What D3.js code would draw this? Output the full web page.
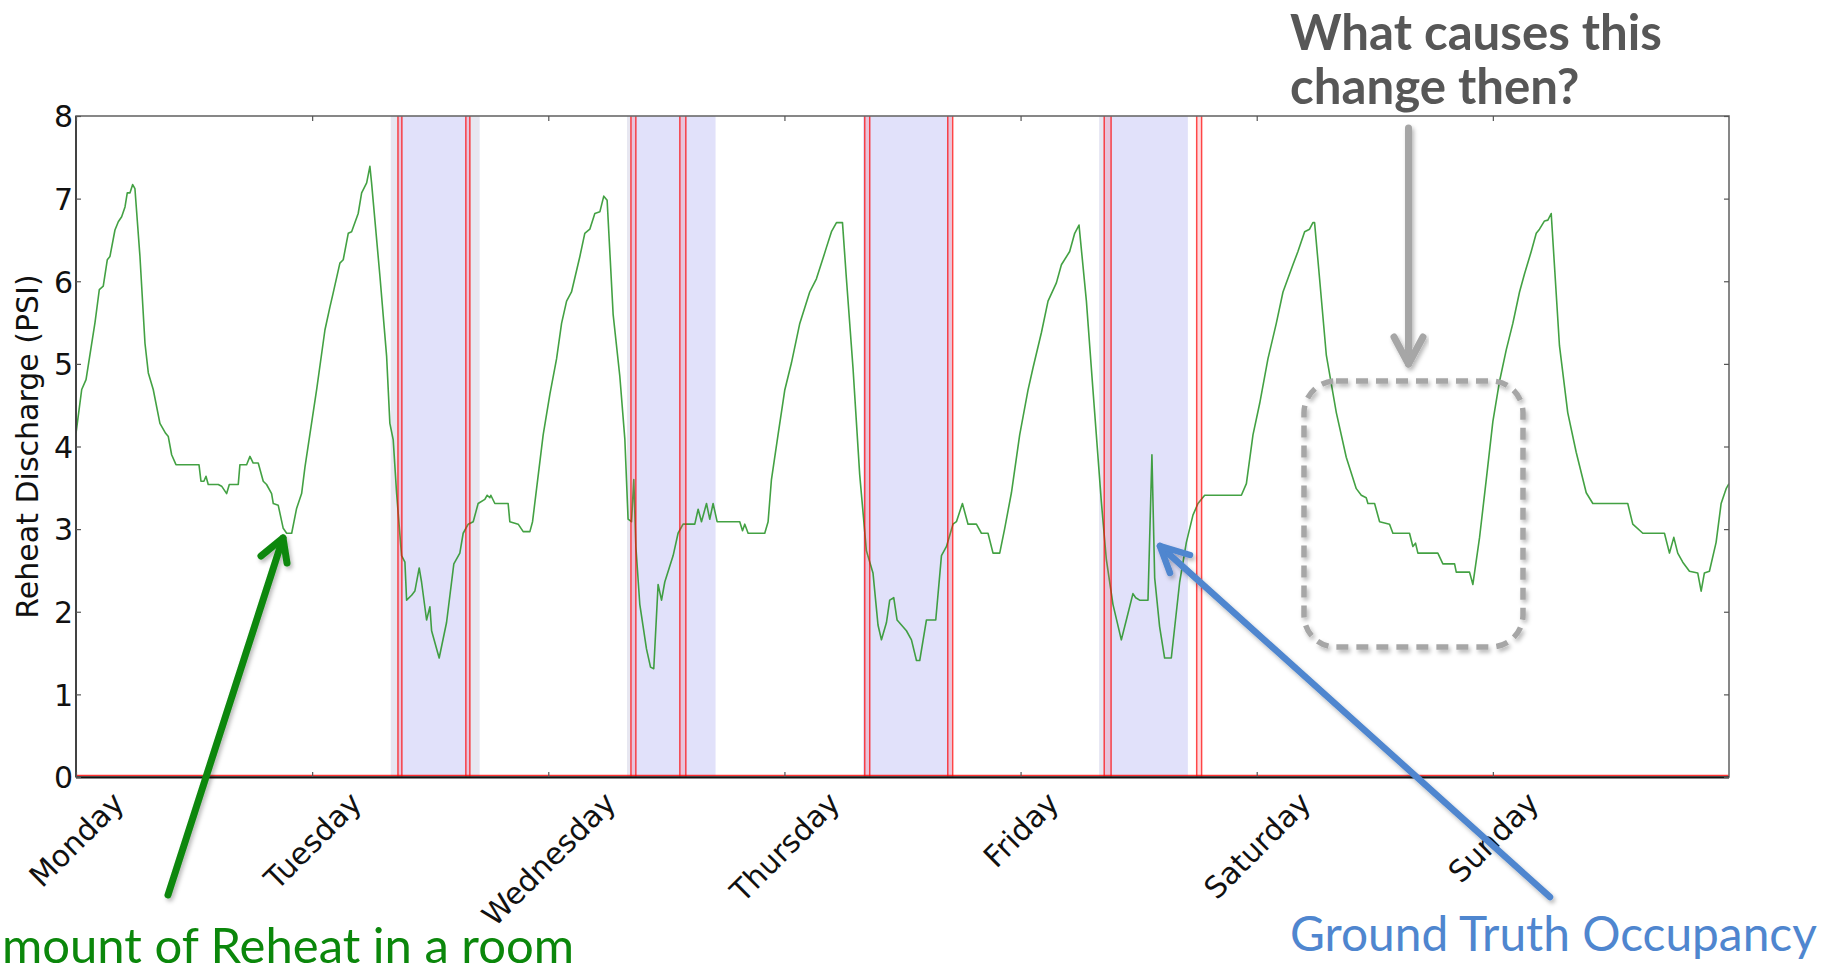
<!DOCTYPE html>
<html>
<head>
<meta charset="utf-8">
<script src="https://cdn.jsdelivr.net/npm/d3@7"></script>
<style>
  html, body { margin: 0; padding: 0; background: #ffffff; }
  svg { display: block; }
</style>
</head>
<body>
<svg id="chart" width="1828" height="973"></svg>
<script>
// ---------------- data ----------------
const dayLabels = ["Monday", "Tuesday", "Wednesday", "Thursday", "Friday", "Saturday", "Sunday"];
const dayTickHours = [0, 24, 48, 72, 96, 120, 144];
const yTicks = [0, 1, 2, 3, 4, 5, 6, 7, 8];
const yLabel = "Reheat Discharge (PSI)";

// time since Monday 00:00 (hours)
const reheatHours = [
  0.0, 0.58, 1.02, 1.93, 2.37, 2.77, 3.18, 3.45, 3.96, 4.30, 4.64, 4.98, 5.21, 5.49, 5.76, 5.99,
  6.50, 7.01, 7.35, 7.85, 8.53, 9.11, 9.38, 9.72, 10.16, 12.50, 12.70, 13.00, 13.21, 13.44, 14.46,
  14.80, 15.31, 15.58, 16.49, 16.66, 17.34, 17.68, 18.01, 18.52, 19.03, 19.37, 19.88, 20.05, 20.55,
  21.06, 21.41, 21.92, 22.42, 22.93, 23.27, 24.46, 25.30, 25.81, 26.14, 26.82, 27.16, 27.67, 28.01,
  28.68, 29.03, 29.54, 29.87, 30.04, 30.89, 31.57, 31.90, 32.24, 32.58, 33.09, 33.43, 33.60, 34.11,
  34.44, 34.88, 35.12, 35.63, 35.97, 36.14, 36.91, 37.66, 38.40, 39.01, 39.35, 39.86, 40.37, 40.87,
  41.55, 41.79, 42.06, 42.16, 42.57, 43.92, 44.09, 44.94, 45.45, 46.13, 46.40, 46.81, 47.48, 48.16,
  48.84, 49.35, 49.86, 50.36, 51.21, 51.71, 52.22, 52.73, 53.24, 53.64, 53.98, 54.59, 55.27, 55.78,
  56.11, 56.46, 56.69, 56.90, 57.30, 57.98, 58.39, 58.72, 59.16, 59.51, 59.84, 60.69, 61.19, 61.70,
  62.89, 63.23, 63.57, 64.08, 64.41, 64.75, 65.16, 67.46, 67.74, 67.97, 68.31, 70.00, 70.34, 70.68,
  71.35, 72.03, 72.71, 73.56, 74.57, 75.25, 75.93, 76.27, 76.78, 77.29, 77.90, 78.30, 78.97, 79.65,
  80.33, 81.00, 81.51, 81.86, 82.37, 82.70, 83.11, 83.45, 84.40, 84.91, 85.42, 85.75, 86.43, 87.38,
  87.96, 88.47, 89.13, 89.48, 90.09, 90.66, 91.51, 92.02, 92.69, 93.20, 93.88, 94.39, 95.07, 95.91,
  96.75, 97.26, 98.12, 98.79, 99.64, 100.15, 100.99, 101.50, 101.94, 102.69, 103.36, 104.21, 104.72,
  105.39, 106.24, 106.75, 107.42, 107.70, 108.10, 108.95, 109.35, 109.63, 110.13, 110.64, 111.32,
  112.17, 112.85, 113.52, 114.03, 114.71, 118.44, 118.95, 119.62, 120.30, 121.14, 121.99, 122.67,
  123.68, 124.19, 124.87, 125.37, 125.71, 125.88, 126.39, 127.07, 128.09, 129.10, 130.12, 130.63,
  131.13, 131.30, 131.98, 132.49, 133.50, 133.84, 135.53, 135.87, 136.14, 136.38, 138.41, 138.92,
  140.11, 140.28, 141.63, 141.97, 142.65, 143.33, 144.00, 144.68, 145.36, 146.03, 146.71, 147.22,
  147.90, 148.41, 148.74, 149.25, 149.59, 149.93, 150.77, 151.61, 152.47, 153.49, 154.16, 157.71,
  158.22, 159.24, 161.44, 161.95, 162.39, 162.79, 163.30, 163.98, 164.82, 165.17, 165.50, 166.01,
  166.69, 167.20, 167.71, 168.0
];
const reheatPSI = [
  4.16, 4.69, 4.81, 5.5, 5.9, 5.94, 6.26, 6.3, 6.62, 6.72, 6.78, 6.9, 7.07, 7.07, 7.17, 7.12,
  6.3, 5.25, 4.89, 4.69, 4.28, 4.16, 4.12, 3.9, 3.78, 3.78, 3.58, 3.58, 3.64, 3.54, 3.54,
  3.52, 3.43, 3.54, 3.54, 3.78, 3.78, 3.88, 3.8, 3.8, 3.58, 3.54, 3.43, 3.31, 3.29,
  3.01, 2.95, 2.95, 3.25, 3.43, 3.75, 4.69, 5.41, 5.69, 5.86, 6.22, 6.26, 6.58, 6.6,
  6.82, 7.07, 7.19, 7.39, 7.19, 6.06, 5.09, 4.28, 4.08, 3.44, 2.68, 2.6, 2.14, 2.2,
  2.25, 2.53, 2.36, 1.9, 2.06, 1.77, 1.44, 1.87, 2.58, 2.71, 2.95, 3.06, 3.09, 3.31,
  3.36, 3.41, 3.38, 3.41, 3.31, 3.31, 3.09, 3.06, 2.97, 2.97, 3.09, 3.49, 4.14, 4.63,
  5.06, 5.49, 5.76, 5.87, 6.3, 6.58, 6.63, 6.82, 6.84, 7.03, 6.98, 5.6, 4.85, 4.09,
  3.12, 3.09, 3.6, 2.79, 2.09, 1.55, 1.33, 1.31, 2.33, 2.14, 2.36, 2.68, 2.95, 3.06,
  3.06, 3.24, 3.09, 3.31, 3.12, 3.31, 3.09, 3.09, 2.98, 3.06, 2.95, 2.95, 3.09, 3.6,
  4.14, 4.68, 5.01, 5.49, 5.87, 6.03, 6.28, 6.41, 6.6, 6.71, 6.71, 6.03, 4.95, 3.66,
  2.74, 2.47, 1.84, 1.66, 1.87, 2.14, 2.17, 1.9, 1.77, 1.66, 1.41, 1.41, 1.9, 1.9,
  2.68, 2.79, 3.06, 3.09, 3.31, 3.06, 3.06, 2.95, 2.95, 2.71, 2.71, 3.01, 3.44, 4.14,
  4.68, 4.95, 5.38, 5.76, 5.98, 6.2, 6.36, 6.58, 6.68, 5.76, 4.68, 3.33, 2.63,
  2.09, 1.66, 1.9, 2.22, 2.17, 2.14, 2.14, 3.9, 2.41, 1.82, 1.44, 1.44,
  2.36, 2.84, 3.17, 3.31, 3.41, 3.41, 3.55, 4.14, 4.52, 5.06, 5.49, 5.87,
  6.2, 6.36, 6.6, 6.63, 6.71, 6.71, 6.03, 5.11, 4.41, 3.87, 3.49, 3.41,
  3.38, 3.31, 3.31, 3.09, 3.06, 2.95, 2.95, 2.79, 2.83, 2.71, 2.71, 2.58,
  2.58, 2.48, 2.48, 2.33, 2.9, 3.6, 4.3, 4.79, 5.17, 5.49, 5.87, 6.09,
  6.36, 6.58, 6.63, 6.73, 6.74, 6.82, 5.22, 4.41, 3.93, 3.44, 3.31, 3.31,
  3.06, 2.95, 2.95, 2.71, 2.9, 2.71, 2.6, 2.49, 2.47, 2.25, 2.47, 2.49,
  2.84, 3.31, 3.49, 3.55
];

// ground truth occupancy spans (hours)
const occupiedStart = [32, 56, 80, 104];
const occupiedEnd   = [41, 65, 89, 113];
// lighter edge parts of the spans (hours)
const edgeStart = [32, 40.03, 56, 104];
const edgeEnd   = [32.72, 41, 56.4, 104.5];
// predicted occupancy on/off pairs (red lines, hours)
const predictedOn  = [32.72, 39.62, 56.4, 61.37, 80.16, 88.6, 104.5, 113.9];
const predictedOff = [33.12, 40.03, 56.9, 61.98, 80.67, 89.1, 105.2, 114.4];

// ---------------- drawing ----------------
const svg = d3.select("#chart");
const W = 1828, H = 973;
const m = { left: 76, right: 1729, top: 116, bottom: 777 };

const x = d3.scaleLinear().domain([0, 168]).range([m.left, m.right]);
const y = d3.scaleLinear().domain([0, 8]).range([m.bottom, m.top]);

svg.append("rect").attr("width", W).attr("height", H).attr("fill", "#ffffff");

const defs = svg.append("defs");
const shadow = defs.append("filter").attr("id", "shadow")
  .attr("x", "-20%").attr("y", "-20%").attr("width", "140%").attr("height", "140%");
shadow.append("feDropShadow").attr("dx", 2).attr("dy", 3).attr("stdDeviation", 2)
  .attr("flood-color", "#000").attr("flood-opacity", 0.28);
defs.append("clipPath").attr("id", "plotclip").append("rect")
  .attr("x", m.left).attr("y", m.top).attr("width", m.right - m.left).attr("height", m.bottom - m.top);

const plot = svg.append("g").attr("clip-path", "url(#plotclip)");

// occupancy spans
plot.selectAll("rect.occ").data(occupiedStart).join("rect").attr("class", "occ")
  .attr("x", (d) => x(d)).attr("width", (d, i) => x(occupiedEnd[i]) - x(d))
  .attr("y", y(8)).attr("height", y(0) - y(8))
  .attr("fill", "#e1e1fa");
plot.selectAll("rect.edge").data(edgeStart).join("rect").attr("class", "edge")
  .attr("x", (d) => x(d)).attr("width", (d, i) => x(edgeEnd[i]) - x(d))
  .attr("y", y(8)).attr("height", y(0) - y(8))
  .attr("fill", "#e7e7f1");

// green reheat line
const series = reheatHours.map((h, i) => [h, reheatPSI[i]]);
plot.append("path").datum(series)
  .attr("fill", "none").attr("stroke", "#2f972f").attr("stroke-width", 1.6)
  .attr("stroke-opacity", 0.9)
  .attr("stroke-linejoin", "round")
  .attr("d", d3.line().x((d) => x(d[0])).y((d) => y(d[1])));

// predicted occupancy (red)
plot.selectAll("rect.pred").data(predictedOn).join("rect").attr("class", "pred")
  .attr("x", (d) => x(d)).attr("width", (d, i) => x(predictedOff[i]) - x(d))
  .attr("y", y(8)).attr("height", y(0) - y(8))
  .attr("fill", "#ff5060").attr("opacity", 0.2);
const redX = predictedOn.concat(predictedOff);
plot.selectAll("line.pred").data(redX).join("line").attr("class", "pred")
  .attr("x1", (d) => x(d)).attr("x2", (d) => x(d))
  .attr("y1", y(8)).attr("y2", y(0))
  .attr("stroke", "#ff0000").attr("stroke-width", 1.5).attr("opacity", 0.7);
plot.append("line")
  .attr("x1", x(0)).attr("x2", x(168)).attr("y1", y(0) - 1.5).attr("y2", y(0) - 1.5)
  .attr("stroke", "#ff0000").attr("stroke-width", 1.6).attr("opacity", 0.8);

// frame
svg.append("rect").attr("x", m.left).attr("y", m.top)
  .attr("width", m.right - m.left).attr("height", m.bottom - m.top)
  .attr("fill", "none").attr("stroke", "#6a6a6a").attr("stroke-width", 1.6);
svg.append("line").attr("x1", m.left).attr("x2", m.right).attr("y1", m.bottom + 0.5).attr("y2", m.bottom + 0.5)
  .attr("stroke", "#111").attr("stroke-width", 1.8);
svg.append("line").attr("x1", m.left).attr("x2", m.left).attr("y1", m.top).attr("y2", m.bottom)
  .attr("stroke", "#333").attr("stroke-width", 1.6);

// axes (inward ticks)
const tickFont = "'DejaVu Sans', sans-serif";
const gxB = svg.append("g").attr("transform", `translate(0,${m.bottom})`)
  .call(d3.axisBottom(x).tickValues(dayTickHours).tickSize(-5).tickFormat((d, i) => dayLabels[i]));
const gxT = svg.append("g").attr("transform", `translate(0,${m.top})`)
  .call(d3.axisTop(x).tickValues(dayTickHours).tickSize(-5).tickFormat(""));
const gyL = svg.append("g").attr("transform", `translate(${m.left},0)`)
  .call(d3.axisLeft(y).tickValues(yTicks).tickSize(-5).tickFormat(d3.format("d")));
const gyR = svg.append("g").attr("transform", `translate(${m.right},0)`)
  .call(d3.axisRight(y).tickValues(yTicks).tickSize(-5).tickFormat(""));
[gxB, gxT, gyL, gyR].forEach((g) => {
  g.select(".domain").remove();
  g.selectAll(".tick line").attr("stroke", "#555").attr("stroke-width", 1.2);
});

gyL.selectAll(".tick text")
  .attr("font-family", tickFont).attr("font-size", 30).attr("fill", "#111")
  .attr("x", -3).attr("dy", "0.36em").attr("text-anchor", "end");

gxB.selectAll(".tick text").each(function (d, i) {
  const t = d3.select(this);
  t.attr("font-family", tickFont).attr("font-size", 30).attr("fill", "#111")
    .attr("text-anchor", "middle").attr("dy", "0.35em").attr("y", 0);
  const w = this.getComputedTextLength();
  const hgt = 30;
  const cy = 10 + (w + hgt) * Math.SQRT1_2 / 2;
  t.attr("transform", `translate(0,${cy}) rotate(-45)`);
});

svg.append("text").text(yLabel)
  .attr("font-family", tickFont).attr("font-size", 30).attr("fill", "#111")
  .attr("text-anchor", "middle")
  .attr("transform", `translate(38,${(m.top + m.bottom) / 2 - 0}) rotate(-90)`);

// ---------------- annotations ----------------
const annFont = "Lato, 'Open Sans', sans-serif";
function fitText(sel, target) {
  const fs = +sel.attr("font-size");
  const w = sel.node().getComputedTextLength();
  sel.attr("font-size", (fs * target / w).toFixed(2));
}

const q1 = svg.append("text").text("What causes this")
  .attr("x", 1290).attr("y", 48).attr("font-family", annFont).attr("font-weight", 700)
  .attr("font-size", 45).attr("fill", "#575757");
fitText(q1, 372);
const q2 = svg.append("text").text("change then?")
  .attr("x", 1290).attr("y", 102).attr("font-family", annFont).attr("font-weight", 700)
  .attr("font-size", q1.attr("font-size")).attr("fill", "#575757");
// keep the first line fully inside the picture
const bb = q1.node().getBBox();
if (bb.y < 1) {
  const dy = 1 - bb.y;
  q1.attr("y", 48 + dy);
  q2.attr("y", 102 + dy);
}

const g1 = svg.append("text").text("Ground Truth Occupancy")
  .attr("x", 1290).attr("y", 951).attr("font-family", annFont)
  .attr("font-size", 46).attr("fill", "#4f86cf");
fitText(g1, 527);

const r1 = svg.append("text").text("mount of Reheat in a room")
  .attr("x", 2).attr("y", 963).attr("font-family", annFont)
  .attr("font-size", 43).attr("fill", "#0b870b");
fitText(r1, 572);

// arrows
function arrow(tail, tip, w1, w2, color, width) {
  const g = svg.append("g").attr("filter", "url(#shadow)")
    .attr("fill", "none").attr("stroke", color).attr("stroke-width", width)
    .attr("stroke-linecap", "round").attr("stroke-linejoin", "round");
  g.append("path").attr("d", d3.line()([tail, tip]));
  g.append("path").attr("d", d3.line()([w1, tip, w2]));
}
arrow([168, 895], [283, 538], [261, 556], [287, 563], "#0b870b", 7);
arrow([1550, 897], [1160, 546], [1190, 555], [1170, 573], "#4f86cf", 6.5);
arrow([1408.5, 128], [1408.5, 364], [1394, 337], [1423, 337], "#a6a6a6", 7);

// dashed rounded box
svg.append("rect").attr("x", 1304).attr("y", 381).attr("width", 219).attr("height", 266)
  .attr("rx", 32).attr("ry", 32)
  .attr("fill", "none").attr("stroke", "#a6a6a6").attr("stroke-width", 5.5)
  .attr("stroke-dasharray", "12 8").attr("filter", "url(#shadow)");
</script>
</body>
</html>
